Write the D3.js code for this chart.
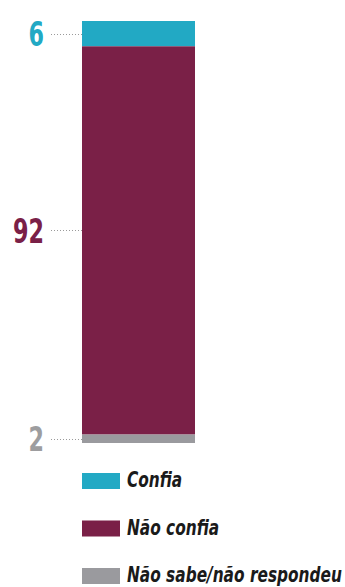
<!DOCTYPE html>
<html>
<head>
<meta charset="utf-8">
<script src="https://cdn.jsdelivr.net/npm/d3@7"></script>
<style>
  html, body { margin: 0; padding: 0; background: #fff; }
  svg { display: block; }
</style>
</head>
<body>
<svg id="chart" width="345" height="587"></svg>
<script>
// Trust survey: share of respondents (%)
const categories = ["Confia", "Não confia", "Não sabe/não responde"];
const legendLabels = ["Confia", "Não confia", "Não sabe/não respondeu"];
const values = [6, 92, 2];
const colors = ["#22a9c4", "#7a2047", "#9a9a9e"];
const labelColors = ["#22a9c4", "#7a2047", "#9d9d9f"];

const svg = d3.select("#chart");
const font = "'DejaVu Sans Condensed', 'DejaVu Sans', sans-serif";

const total = d3.sum(values);
const y = d3.scaleLinear().domain([0, total]).range([21, 443]);
const x = d3.scaleBand().domain(["bar"]).range([82, 195]).padding(0);

// stack segments from the top down
let acc = 0;
const segs = values.map((v, i) => {
  const s = { cat: categories[i], v, i, y0: acc, y1: acc + v };
  acc += v;
  return s;
});

svg.selectAll("rect.seg").data(segs).join("rect")
  .attr("class", "seg")
  .attr("x", x("bar"))
  .attr("width", x.bandwidth())
  .attr("y", d => y(d.y0))
  .attr("height", d => y(d.y1) - y(d.y0))
  .attr("fill", d => colors[d.i]);

// condense a group of texts by one common horizontal factor, so that the
// widest of them spans maxW pixels; each text keeps its own x as anchor
function condense(sel, maxW) {
  let widest = 0;
  sel.each(function () { widest = Math.max(widest, this.getComputedTextLength()); });
  const k = Math.min(1, maxW / widest);
  sel.attr("transform", function () {
    const ax = +d3.select(this).attr("x");
    return `translate(${ax * (1 - k)},0) scale(${k},1)`;
  });
}

// value labels with dotted leaders
const labelY = d => (y(d.y0) + y(d.y1)) / 2 + (d.v > 50 ? -10 : 0);

svg.selectAll("line.lead").data(segs).join("line")
  .attr("class", "lead")
  .attr("x1", 51).attr("x2", x("bar"))
  .attr("y1", d => Math.round(labelY(d)) + 0.5)
  .attr("y2", d => Math.round(labelY(d)) + 0.5)
  .attr("stroke", "#9a9a9a")
  .attr("stroke-width", 1)
  .attr("stroke-dasharray", "1 2");

svg.selectAll("text.val").data(segs).join("text")
  .attr("class", "val")
  .attr("x", 44)
  .attr("y", d => labelY(d))
  .attr("dy", "0.36em")
  .attr("text-anchor", "end")
  .attr("font-family", font)
  .attr("font-weight", "bold")
  .attr("font-size", 34)
  .attr("fill", d => labelColors[d.i])
  .text(d => d.v)
  .call(condense, 31);

// legend
const ly = d3.scalePoint().domain(categories).range([481, 576]);
const lg = svg.selectAll("g.leg").data(categories).join("g")
  .attr("class", "leg")
  .attr("transform", d => `translate(82,${ly(d)})`);

lg.append("rect")
  .attr("x", 0).attr("y", -8)
  .attr("width", 38).attr("height", 16)
  .attr("fill", (d, i) => colors[i]);

svg.selectAll("g.leg").append("text")
  .attr("class", "legtxt")
  .attr("x", 45)
  .attr("y", 6)
  .attr("font-family", font)
  .attr("font-weight", "bold")
  .attr("font-style", "italic")
  .attr("font-size", 22)
  .attr("fill", "#1a1a1a")
  .text((d, i) => legendLabels[i]);

svg.selectAll("text.legtxt").call(condense, 215);
</script>
</body>
</html>
